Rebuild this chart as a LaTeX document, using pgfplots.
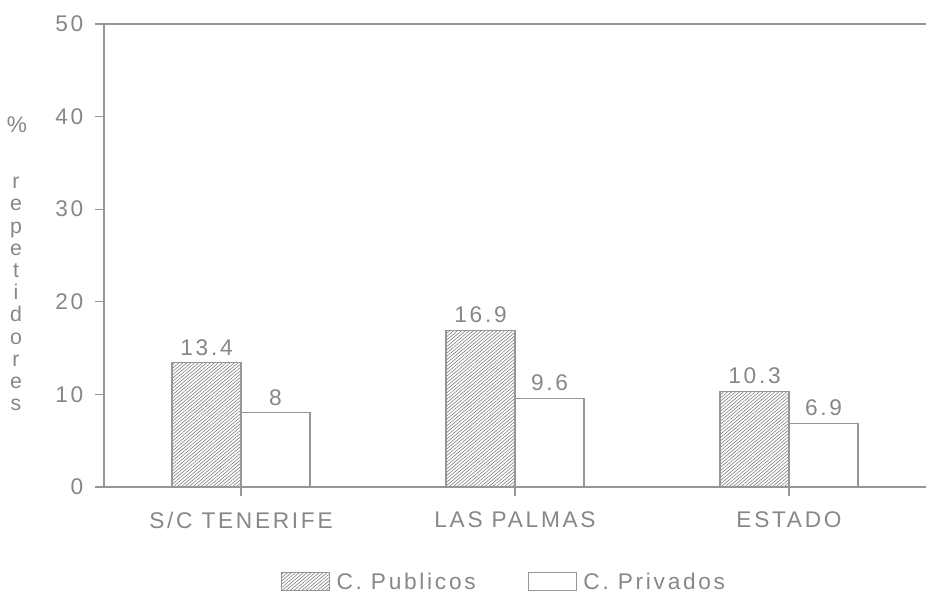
\documentclass[border=0pt]{standalone}
\usepackage{fontspec}
\setmainfont{Liberation Sans}[LetterSpace=12]
\usepackage{pgfplots}
\pgfplotsset{compat=1.18}
\usetikzlibrary{patterns.meta}

\definecolor{ln}{RGB}{150,150,150}
\definecolor{tx}{RGB}{135,135,135}
\definecolor{hatch}{RGB}{125,125,125}
\newcommand\lbl{\fontsize{17}{19}\selectfont}

\begin{document}
\begin{tikzpicture}
% page = 926x599 px at 0.75pt/px, axis origin at pixel (104,487)
\path[use as bounding box] (-78pt,-84pt) rectangle (616.5pt,365.25pt);
\begin{axis}[
    scale only axis,
    width=616.5pt, height=347.25pt,
    xmin=-0.5, xmax=2.5,
    ymin=0, ymax=50,
    ybar=0pt, bar width=51.75pt,
    xtick={0,1,2},
    xticklabels={S/C TENERIFE, LAS PALMAS, ESTADO},
    ytick={0,10,...,50},
    tick align=outside,
    xtick pos=bottom, ytick pos=left,
    major tick length=7pt,
    tick style={draw=ln, line width=0.8pt},
    axis line style={draw=none},
    ticklabel style={font=\lbl, text=tx},
    xticklabel style={yshift=-8pt},
    yticklabel style={xshift=-5pt},
    /pgf/number format/assume math mode=true,
    nodes near coords,
    nodes near coords style={font=\lbl, text=tx, yshift=2pt},
    clip=false,
    legend columns=2,
    legend image code/.code={\draw[#1] (0pt,-6.75pt) rectangle (36pt,6.75pt);},
    legend style={at={(0.487,-0.205)}, anchor=center, draw=none, fill=none,
        font=\lbl, text=tx, cells={anchor=west},
        /tikz/every odd column/.append style={column sep=3pt},
        /tikz/every even column/.append style={column sep=37pt}},
]
% C. Publicos
\addplot[draw=ln, line width=0.8pt,
    pattern={Lines[angle=40,distance=1.9pt,line width=0.45pt]}, pattern color=hatch]
    coordinates {(0,13.4) (1,16.9) (2,10.3)};
% C. Privados
\addplot[draw=ln, line width=0.8pt, fill=white]
    coordinates {(0,8) (1,9.6) (2,6.9)};
\legend{C. Publicos, C. Privados}
\draw[ln, line width=0.9pt] (rel axis cs:1,1) -- (rel axis cs:0,1) -- (rel axis cs:0,0) -- (rel axis cs:1,0);
\end{axis}
\node[font=\lbl, text=tx] at (-65.25pt,272pt) {\%};
\node[font=\fontsize{16}{16.65}\selectfont, text=tx, align=center] at (-66pt,144.75pt)
    {r\\e\\p\\e\\t\\i\\d\\o\\r\\e\\s};
\end{tikzpicture}
\end{document}
